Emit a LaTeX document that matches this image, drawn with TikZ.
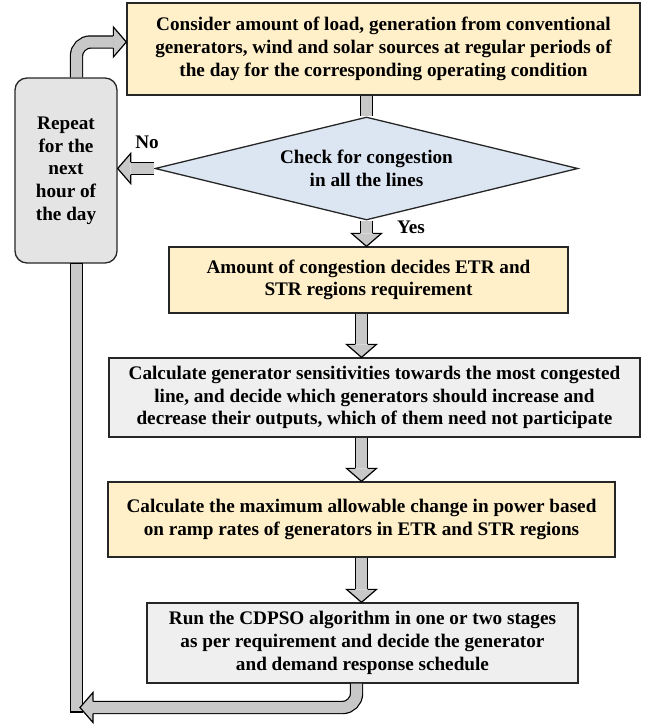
\documentclass[tikz,border=0pt]{standalone}
\usepackage{fontspec}
\setmainfont{Liberation Serif}
\usepackage{xcolor}
\usetikzlibrary{shapes.geometric}
\usetikzlibrary{positioning}
\definecolor{gelb}{HTML}{FFF0C9}
\definecolor{hellgrau}{HTML}{EFEFEF}
\definecolor{mittelgrau}{HTML}{E4E4E4}
\definecolor{hellblau}{HTML}{DCE6F2}
\definecolor{pfeilgrau}{HTML}{C8C8C8}
\tikzset{
  Kasten/.style={draw=black!85, line width=1.3pt, align=center, inner sep=0pt}, % Grundform
  GKasten/.style={Kasten, fill=gelb}, % gelbe Kaesten
  HKasten/.style={Kasten, fill=hellgrau}, % graue Kaesten
  Schaft/.style={draw=black, line width=1.2pt, double=pfeilgrau, double distance=11pt}, % Blockpfeil
  Kopf/.style={fill=pfeilgrau, draw=black, line width=1.2pt, line join=miter} % Pfeilspitze
}
% Spitze: #1 Spitze, #2 Richtung
\newcommand{\Spitze}[2]{%
  \filldraw[Kopf, shift={#1}, rotate=#2] (-13pt,6.1pt) -- (-13pt,15pt) -- (0pt,0pt) -- (-13pt,-15pt) -- (-13pt,-6.1pt);}

\begin{document}
\begin{tikzpicture}[x=1pt, y=1pt,
font=\fontsize{19.2}{22.7}\selectfont\bfseries
]
\useasboundingbox (0,0) rectangle (656,-726);

%Kaesten
\node[GKasten, minimum width=513pt, minimum height=92pt] (start) at (383.5,-49)
  {Consider amount of load, generation from conventional\\
   generators, wind and solar sources at regular periods of\\
   the day for the corresponding operating condition};
\node[Kasten, diamond, fill=hellblau, aspect=4.1, minimum width=423pt, minimum height=103pt] (pruef) at (366.5,-168.5)
  {Check for congestion\\in all the lines};
\node[Kasten, rounded corners=12pt, fill=mittelgrau, minimum width=102pt, minimum height=185pt] (wdh) at (66,-170.5)
  {Repeat\\for the\\next\\hour of\\the day};
\node[GKasten, minimum width=399pt, minimum height=66pt] (menge) at (368.5,-280)
  {Amount of congestion decides ETR and\\STR regions requirement};
\node[HKasten, minimum width=531pt, minimum height=79pt] (sens) at (374.5,-397.5)
  {Calculate generator sensitivities towards the most congested\\
   line, and decide which generators should increase and\\
   decrease their outputs, which of them need not participate};
\node[GKasten, minimum width=507pt, minimum height=75pt] (rampe) at (361.5,-519.5)
  {Calculate the maximum allowable change in power based\\
   on ramp rates of generators in ETR and STR regions};
\node[HKasten, minimum width=431pt, minimum height=80pt] (cdpso) at (362.5,-643)
  {Run the CDPSO algorithm in one or two stages\\
   as per requirement and decide the generator\\
   and demand response schedule};

%Beschriftung
\node (nein) at (147,-142) {No};
\node (ja) at (411,-227) {Yes};

%Hilfspunkte
\coordinate (ende) at (76.5,-712);
\coordinate (ziel) at (80,-707.5);
\coordinate (aus) at (wdh.south -| ende);

%Pfeile
\draw[Schaft] (start.south -| pruef.north) -- (pruef.north);
\draw[Schaft] (pruef.south) -- ([yshift=13pt]menge.north -| pruef.south);
\Spitze{(menge.north -| pruef.south)}{-90}
\draw[Schaft] (pruef.west) -- ([xshift=13pt]wdh.east |- pruef.west);
\Spitze{(wdh.east |- pruef.west)}{180}
\draw[Schaft] (menge.south -| rampe.north) -- ([yshift=13pt]sens.north -| rampe.north);
\Spitze{(sens.north -| rampe.north)}{-90}
\draw[Schaft] (sens.south -| rampe.north) -- ([yshift=13pt]rampe.north);
\Spitze{(rampe.north)}{-90}
\draw[Schaft] (rampe.south) -- ([yshift=13pt]cdpso.north -| rampe.south);
\Spitze{(cdpso.north -| rampe.south)}{-90}

%Rueckfuehrung
\draw[Schaft, rounded corners=14pt] (wdh.north -| ende) |- ([xshift=-13pt, yshift=7pt]start.west);
\Spitze{([yshift=7pt]start.west)}{0}
\filldraw[Kopf] ([xshift=-6.1pt]aus) rectangle ([xshift=6.1pt]ende);
\draw[Schaft, rounded corners=14pt] ([xshift=-6pt]cdpso.south) |- ([xshift=13pt]ziel);
\Spitze{(ziel)}{180}

\end{tikzpicture}
\end{document}
